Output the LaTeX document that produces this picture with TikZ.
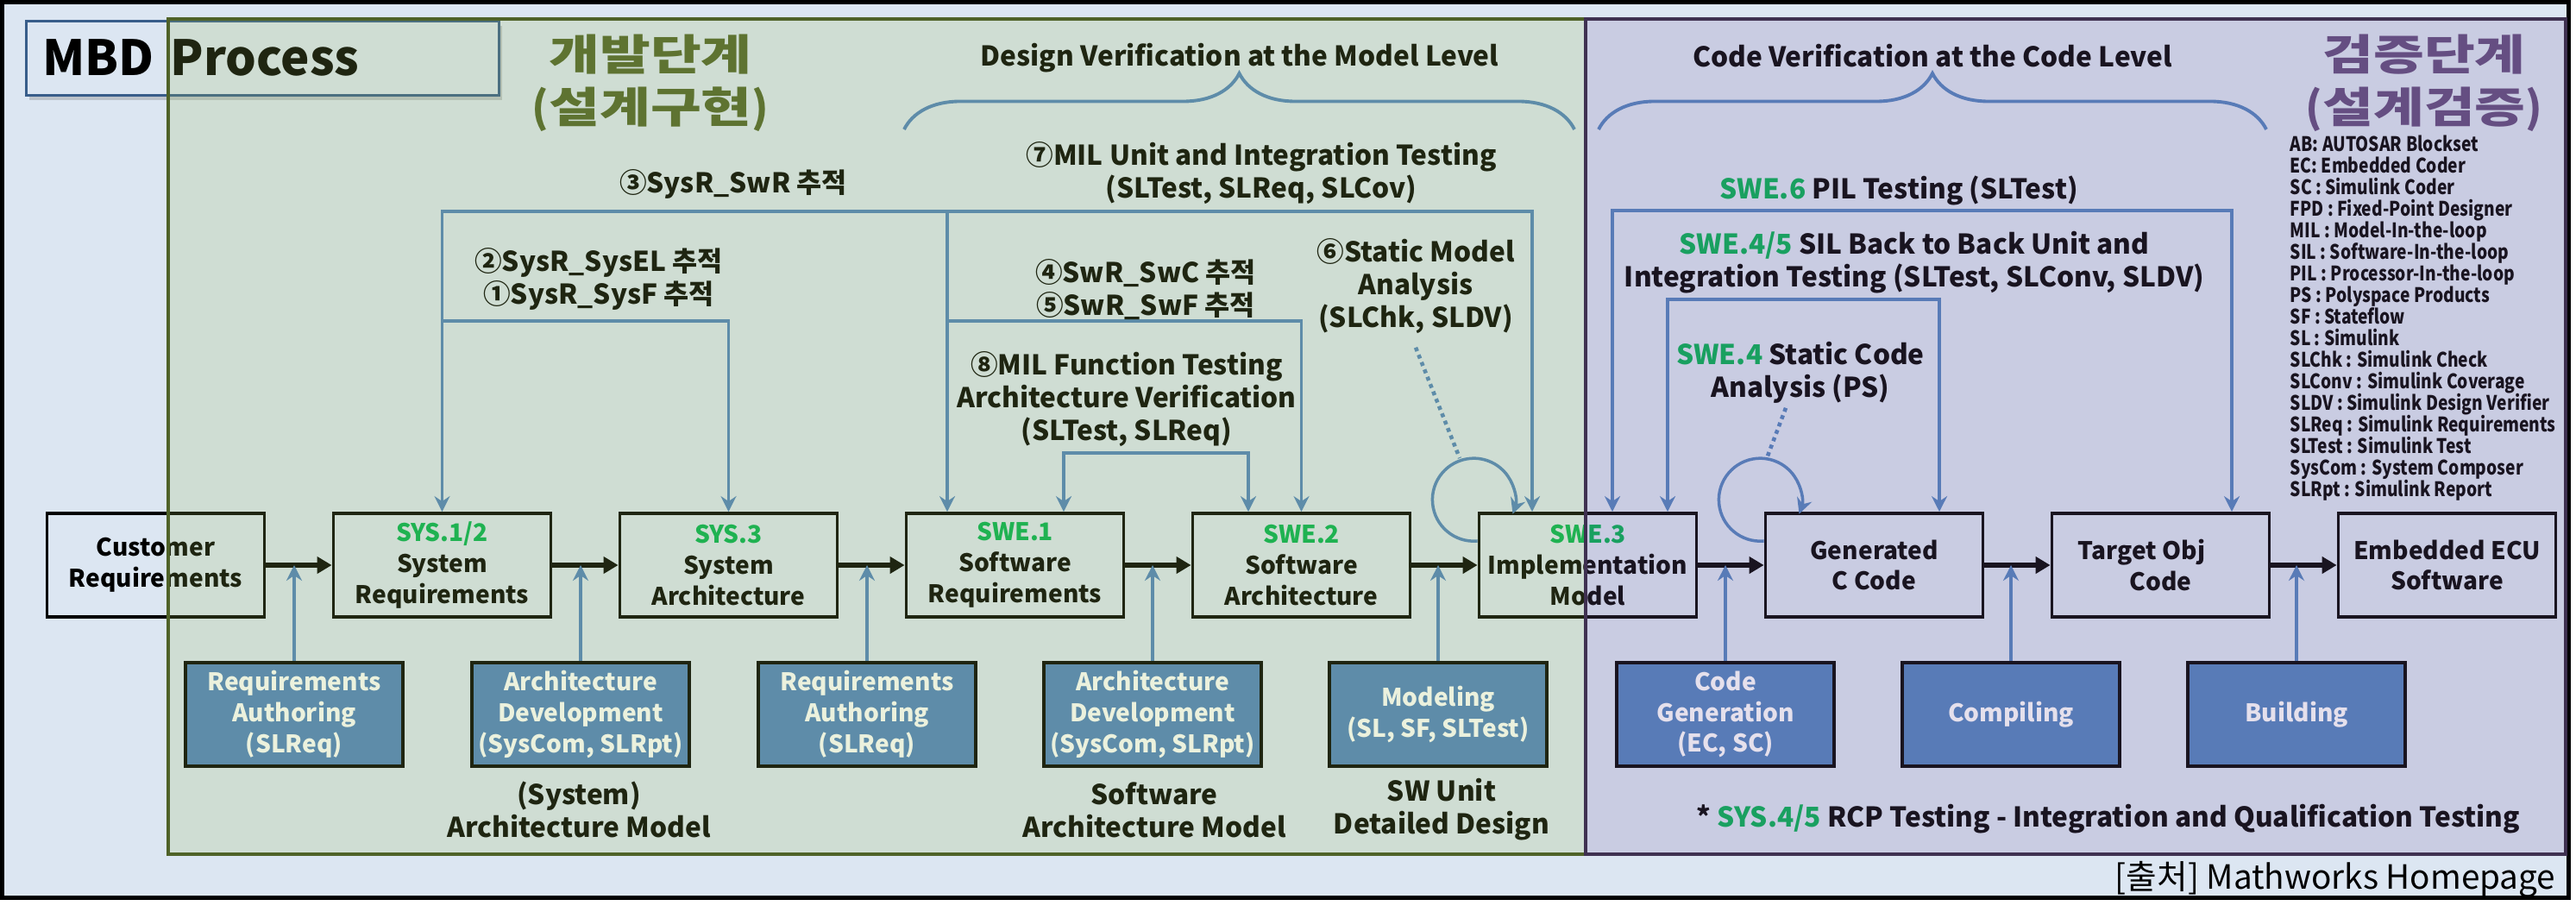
\documentclass[tikz,border=0pt]{standalone}
\usepackage{fontspec}
\setmainfont{Noto Sans CJK KR}
\newfontfamily\widefont{Noto Sans CJK KR}[FakeStretch=1.3]
\newfontfamily\narrowfont{Noto Sans CJK KR}[FakeStretch=0.83]
\usetikzlibrary{arrows.meta,shadows,decorations.pathreplacing,calc}

\definecolor{bgblue}{HTML}{DCE6F2}
\definecolor{olivedark}{HTML}{4F6228}
\definecolor{oliveacc}{HTML}{9BBB59}
\definecolor{purpledark}{HTML}{3F3151}
\definecolor{purpleacc}{HTML}{8064A2}
\definecolor{phasepurple}{HTML}{5F497A}
\definecolor{toolblue}{HTML}{4F81BD}
\definecolor{swegreen}{HTML}{00B050}
\definecolor{titleblue}{HTML}{385D8A}

\newcommand{\ppar}[1]{{\rmfamily\bfseries #1}}

\tikzset{
  procbox/.style={draw, line width=1.1pt, minimum width=2.52cm, minimum height=1.2cm,
    inner sep=0pt, align=center, font=\bfseries\fontsize{8}{10.2}\selectfont},
  toolbox/.style={procbox, fill=toolblue, text=white},
  flow/.style={line width=1.5pt, -{Triangle[length=1.7mm,width=1.9mm]}},
  tool/.style={draw=toolblue, line width=1pt, ->},
  tr/.style={draw=toolblue, line width=1pt},
  dotline/.style={draw=toolblue, line width=1.3pt, dash pattern=on 1.3pt off 1.3pt},
  brace/.style={draw=toolblue, line width=1.1pt, decorate, decoration={brace, amplitude=6.5mm}},
  lbl/.style={font=\bfseries\fontsize{9}{10.8}\selectfont, align=center, inner sep=0pt},
  phase/.style={font=\widefont\bfseries\fontsize{14}{17.4}\selectfont, align=center, inner sep=0pt},
  legend/.style={font=\narrowfont\bfseries\fontsize{6.6}{7.1}\selectfont, align=left, inner sep=0pt, anchor=west},
}

\begin{document}
\begin{tikzpicture}[>={Stealth[length=1.8mm,width=1.8mm,inset=0.6mm]}]
  \useasboundingbox (0,0) rectangle (29.86,10.56);
  % frame and background
  \fill[white] (0,0) rectangle (29.86,10.56);
  \fill[black] (0,0.13) rectangle (29.80,10.56);
  \fill[bgblue] (0.05,0.18) rectangle (29.75,10.51);
  % title
  \node[draw=titleblue, line width=0.8pt, fill=bgblue, anchor=north west, minimum width=5.48cm,
    minimum height=0.86cm, inner xsep=1.9mm, text width=5.1cm, align=left,
    drop shadow={shadow xshift=0.4mm, shadow yshift=-0.6mm, opacity=0.35},
    font=\bfseries\fontsize{16}{19}\selectfont] (mbd) at (0.29,10.33) {MBD Process};
  \node[phase, text=olivedark] (dev) at (7.54,9.60) {개발단계\\\ppar{(}설계구현\ppar{)}};
  \node[phase, text=phasepurple] (ver) at (28.10,9.60) {검증단계\\\ppar{(}설계검증\ppar{)}};

  % process chain
  \node[procbox] (cr) at (1.805,4.01) {Customer\\Requirements};
  \node[procbox] (sys12) at (5.125,4.01) {\textcolor{swegreen}{SYS.1/2}\\System\\Requirements};
  \node[procbox] (sys3) at (8.445,4.01) {\textcolor{swegreen}{SYS.3}\\System\\Architecture};
  \node[procbox] (swe1) at (11.765,4.01) {\textcolor{swegreen}{SWE.1}\\Software\\Requirements};
  \node[procbox] (swe2) at (15.085,4.01) {\textcolor{swegreen}{SWE.2}\\Software\\Architecture};
  \node[procbox] (swe3) at (18.405,4.01) {\textcolor{swegreen}{SWE.3}\\Implementation\\Model};
  \node[procbox] (gen) at (21.725,4.01) {Generated\\C Code};
  \node[procbox] (tgt) at (25.045,4.01) {Target Obj\phantom{ect}\\Code};
  \node[procbox] (ecu) at (28.365,4.01) {Embedded ECU\\Software};
  \draw[flow] (cr) -- (sys12);
  \draw[flow] (sys12) -- (sys3);
  \draw[flow] (sys3) -- (swe1);
  \draw[flow] (swe1) -- (swe2);
  \draw[flow] (swe2) -- (swe3);
  \draw[flow] (swe3) -- (gen);
  \draw[flow] (gen) -- (tgt);
  \draw[flow] (tgt) -- (ecu);

  % tools
  \node[toolbox] (ra1) at (3.41,2.28) {Requirements\\Authoring\\(SLReq)};
  \node[toolbox] (ad1) at (6.73,2.28) {Architecture\\Development\\(SysCom, SLRpt)};
  \node[toolbox] (ra2) at (10.05,2.28) {Requirements\\Authoring\\(SLReq)};
  \node[toolbox] (ad2) at (13.36,2.28) {Architecture\\Development\\(SysCom, SLRpt)};
  \node[toolbox] (mdl) at (16.67,2.28) {Modeling\\(SL, SF, SLTest)};
  \node[toolbox] (cg) at (20.00,2.28) {Code\\Generation\\(EC, SC)};
  \node[toolbox] (cmp) at (23.31,2.28) {Compiling};
  \node[toolbox] (bld) at (26.62,2.28) {Building};
  \draw[tool] (ra1.north) -- (ra1.north |- cr.east);
  \draw[tool] (ad1.north) -- (ad1.north |- cr.east);
  \draw[tool] (ra2.north) -- (ra2.north |- cr.east);
  \draw[tool] (ad2.north) -- (ad2.north |- cr.east);
  \draw[tool] (mdl.north) -- (mdl.north |- cr.east);
  \draw[tool] (cg.north) -- (cg.north |- cr.east);
  \draw[tool] (cmp.north) -- (cmp.north |- cr.east);
  \draw[tool] (bld.north) -- (bld.north |- cr.east);

  \node[lbl] (sysam) at (6.71,1.175) {(System)\\Architecture Model};
  \node[lbl] (swam) at (13.38,1.175) {Software\\Architecture Model};
  \node[lbl] (swud) at (16.71,1.175) {SW Unit\\Detailed Design};

  % traceability and verification
  \coordinate (ytop) at (0,8.11);
  \coordinate (ymid) at (0,6.84);
  \coordinate (yfun) at (0,5.31);
  \coordinate (ypil) at (0,8.12);
  \coordinate (ysil) at (0,7.09);
  \draw[tr,<->] (sys12.north) |- ([xshift=-6.45mm]swe3.north |- ytop) -- ([xshift=-6.45mm]swe3.north);
  \draw[tr,->] ([xshift=-7.85mm]swe1.north |- ytop) -- ([xshift=-7.85mm]swe1.north);
  \draw[tr,->] (sys12.north |- ymid) -| (sys3.north);
  \draw[tr,->] ([xshift=-7.85mm]swe1.north |- ymid) -| (swe2.north);
  \draw[tr,<->] ([xshift=5.65mm]swe1.north) |- ([xshift=-6.15mm]swe2.north |- yfun) -- ([xshift=-6.15mm]swe2.north);
  \draw[tr,<->] ([xshift=2.85mm]swe3.north) |- ([xshift=8.25mm]tgt.north |- ypil) -- ([xshift=8.25mm]tgt.north);
  \draw[tr,<->] ([xshift=9.25mm]swe3.north) |- ([xshift=7.55mm]gen.north |- ysil) -- ([xshift=7.55mm]gen.north);
  \draw[tr,->] ([yshift=2.8mm]swe3.west) arc[start angle=275, end angle=-20, radius=0.48];
  \draw[tr,->] ([yshift=2.8mm]gen.west) arc[start angle=275, end angle=-20, radius=0.48];

  \node[lbl, anchor=base] (tr3) at (8.50,8.32) {③SysR\_SwR 추적};
  \node[lbl] (tr12) at (6.94,7.33) {②SysR\_SysEL 추적\\①SysR\_SysF 추적};
  \node[lbl] (mil7) at (14.62,8.55) {⑦MIL Unit and Integration Testing\\(SLTest, SLReq, SLCov)};
  \node[lbl] (tr45) at (13.28,7.20) {④SwR\_SwC 추적\\⑤SwR\_SwF 추적};
  \node[lbl] (sma) at (16.41,7.24) {⑥Static Model\\Analysis\\(SLChk, SLDV)};
  \node[lbl] (mil8) at (13.06,5.935) {⑧MIL Function Testing\\Architecture Verification\\(SLTest, SLReq)};
  \node[lbl, anchor=base] (pil) at (22.01,8.25) {\textcolor{swegreen}{SWE.6} PIL Testing (SLTest)};
  \node[lbl] (sil) at (22.19,7.52) {\textcolor{swegreen}{SWE.4/5} SIL Back to Back Unit and\\Integration Testing (SLTest, SLConv, SLDV)};
  \node[lbl] (sca) at (20.87,6.245) {\textcolor{swegreen}{SWE.4} Static Code\\Analysis (PS)};
  \coordinate (lp3) at (16.92,5.25);
  \coordinate (lpc) at (20.48,5.25);
  \draw[dotline] ([yshift=-1.5mm]sma.south) -- (lp3);
  \draw[dotline] ([xshift=-1.7mm,yshift=-0.5mm]sca.south) -- (lpc);

  % levels
  \draw[brace] (10.48,9.06) -- (18.25,9.06);
  \draw[brace] (18.53,9.06) -- (26.27,9.06);
  \node[lbl, anchor=base] (dvml) at (14.37,9.79) {Design Verification at the Model Level};
  \node[lbl, anchor=base] (cvcl) at (22.40,9.78) {Code Verification at the Code Level};

  \node[legend] (abbr) at (26.54,6.875) {AB: AUTOSAR Blockset\\EC: Embedded Coder\\SC : Simulink Coder\\FPD : Fixed-Point Designer\\MIL : Model-In-the-loop\\SIL : Software-In-the-loop\\PIL : Processor-In-the-loop\\PS : Polyspace Products\\SF : Stateflow\\SL : Simulink\\SLChk : Simulink Check\\SLConv : Simulink Coverage\\SLDV : Simulink Design Verifier\\SLReq : Simulink Requirements\\SLTest : Simulink Test\\SysCom : System Composer\\SLRpt : Simulink Report};
  \node[lbl, anchor=base] (rcp) at (24.44,0.98) {* \textcolor{swegreen}{SYS.4/5} RCP Testing - Integration and Qualification Testing};

  % phases
  \filldraw[draw=olivedark, line width=1pt, fill=oliveacc, fill opacity=0.2] (1.95,0.66) rectangle (18.38,10.34);
  \filldraw[draw=purpledark, line width=1pt, fill=purpleacc, fill opacity=0.2] (18.38,0.66) rectangle (29.74,10.34);

  \node[anchor=base east, inner sep=0pt, font=\fontsize{11}{13}\selectfont] (src) at (29.63,0.26) {[출처] Mathworks Homepage};
\end{tikzpicture}
\end{document}
